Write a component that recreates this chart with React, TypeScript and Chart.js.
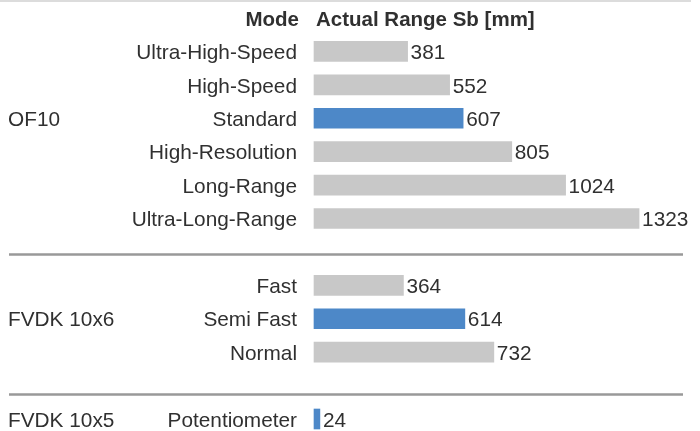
import React, { useEffect, useRef } from "react";
import { Chart, registerables } from "chart.js";

Chart.register(...registerables);

const modes: string[] = ["", "Ultra-High-Speed", "High-Speed", "Standard", "High-Resolution", "Long-Range", "Ultra-Long-Range", "", "Fast", "Semi Fast", "Normal", "", "Potentiometer"];
const values: (number | null)[] = [null, 381, 552, 607, 805, 1024, 1323, null, 364, 614, 732, null, 24];
const highlighted: string[] = ["Standard", "Semi Fast", "Potentiometer"];
const groupLabels: string[] = ["OF10", "FVDK 10x6", "FVDK 10x5"];
const groupRows: number[] = [3, 9, 12];
const separatorRows: number[] = [7.05, 11.25];
const headerMode = "Mode";
const headerValue = "Actual Range Sb [mm]";

const GRAY = "#c8c8c8";
const BLUE = "#4d88c8";
const TEXT = "#303030";
const FONT = "'Liberation Sans', Arial, Helvetica, sans-serif";

export default function App() {
  const ref = useRef<HTMLCanvasElement | null>(null);

  useEffect(() => {
    if (!ref.current) return;
    const decor = {
      id: "decor",
      afterDatasetsDraw(chart: any) {
        const ctx = chart.ctx;
        const x = chart.scales.x;
        const y = chart.scales.y;
        const left = chart.chartArea.left;
        const dy = 2;
        ctx.save();
        // top line
        ctx.strokeStyle = "#d0d0d0";
        ctx.lineWidth = 1.5;
        ctx.beginPath();
        ctx.moveTo(0, 1);
        ctx.lineTo(691, 1);
        ctx.stroke();
        // separators
        ctx.strokeStyle = "#999999";
        ctx.lineWidth = 2.5;
        separatorRows.forEach((r) => {
          const py = Math.round(y.getPixelForValue(r)) + 0.5;
          ctx.beginPath();
          ctx.moveTo(9, py);
          ctx.lineTo(683, py);
          ctx.stroke();
        });
        ctx.fillStyle = TEXT;
        ctx.textBaseline = "middle";
        // header
        const hy = y.getPixelForValue(0) + dy;
        ctx.font = `bold 20.5px ${FONT}`;
        ctx.textAlign = "right";
        ctx.fillText(headerMode, left - 15, hy);
        ctx.textAlign = "left";
        ctx.fillText(headerValue, left + 2, hy);
        // mode labels + values
        ctx.font = `20.8px ${FONT}`;
        modes.forEach((m, i) => {
          if (!m) return;
          const py = y.getPixelForValue(i) + dy;
          ctx.textAlign = "right";
          ctx.fillText(m, left - 17, py);
          const v = values[i];
          if (v != null) {
            ctx.textAlign = "left";
            ctx.fillText(String(v), x.getPixelForValue(v) + 3, py);
          }
        });
        // group labels
        ctx.textAlign = "left";
        groupLabels.forEach((g, k) => {
          ctx.fillText(g, 8, y.getPixelForValue(groupRows[k]) + dy);
        });
        ctx.restore();
      },
    };

    const chart = new Chart(ref.current, {
      type: "bar",
      data: {
        labels: modes.map((m, i) => m || " ".repeat(i + 1)),
        datasets: [
          {
            data: values as any,
            backgroundColor: modes.map((m) => (highlighted.includes(m) ? BLUE : GRAY)),
            borderWidth: 0,
            barThickness: 20,
            clip: false as any,
          },
        ],
      },
      options: {
        indexAxis: "y",
        animation: false,
        responsive: true,
        maintainAspectRatio: false,
        layout: { padding: { left: 314, right: 0, top: 18, bottom: 12 } },
        plugins: { legend: { display: false }, tooltip: { enabled: false } },
        scales: {
          x: { display: false, min: 0, max: 1571 },
          y: { display: false, offset: false, grid: { display: false } },
        },
      },
      plugins: [decor],
    });
    return () => chart.destroy();
  }, []);

  return (
    <div style={{ position: "fixed", left: 0, top: 0, width: 700, height: 431, background: "#fff" }}>
      <canvas ref={ref} />
    </div>
  );
}
